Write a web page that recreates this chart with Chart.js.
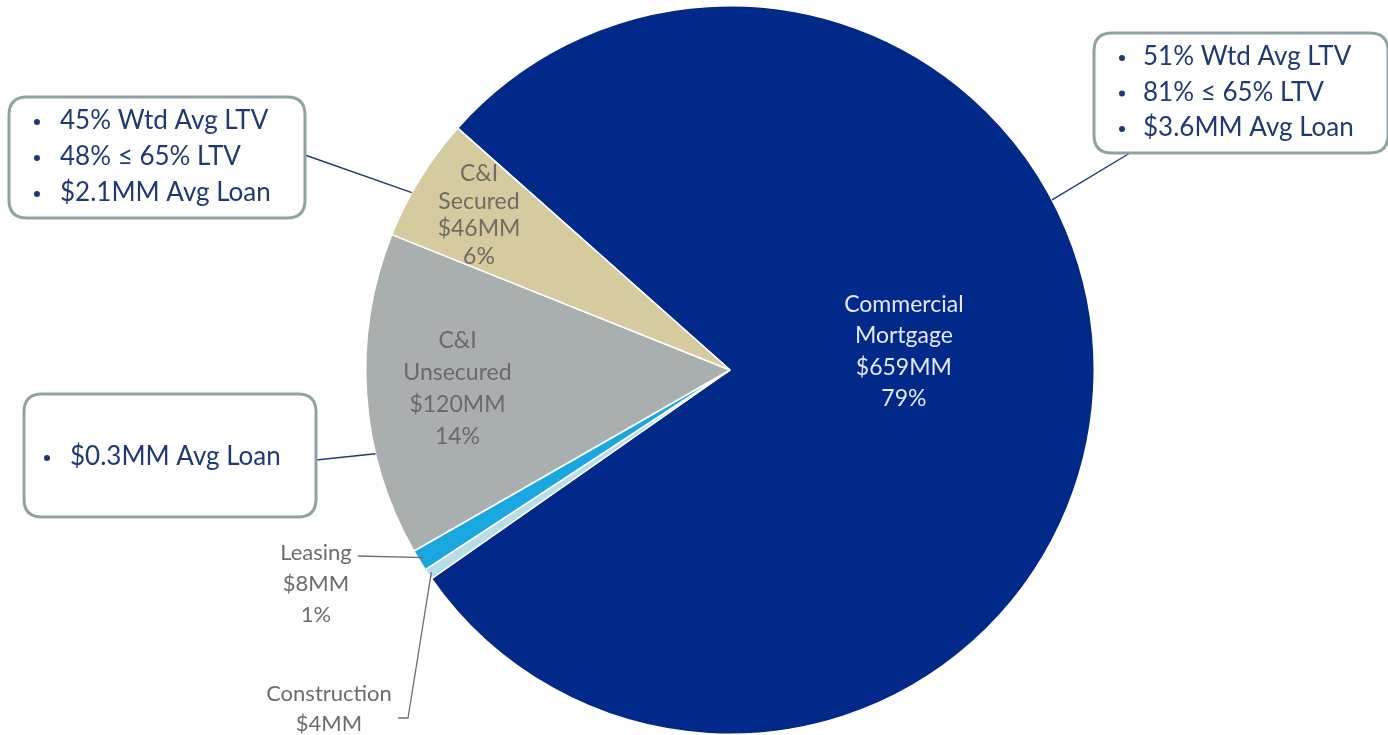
<!DOCTYPE html>
<html>
<head>
<meta charset="utf-8">
<script src="https://cdn.jsdelivr.net/npm/chart.js@4"></script>
<style>
  html, body { margin: 0; padding: 0; background: #fff; }
  #wrap { position: relative; width: 1388px; height: 735px; overflow: hidden; }
</style>
</head>
<body>
<div id="wrap"><canvas id="chart1"></canvas></div>
<script>
const categories = ['Commercial Mortgage', 'Construction', 'Leasing', 'C&I Unsecured', 'C&I Secured'];
const balances = [659, 4, 8, 120, 46];
const pctLabels = ['79%', '', '1%', '14%', '6%'];
const nameLines = [['Commercial', 'Mortgage'], ['Construction'], ['Leasing'], ['C&I', 'Unsecured'], ['C&I', 'Secured']];
const sliceColors = ['#00298a', '#b7dde9', '#1aa7e0', '#a9aeae', '#d6ca9f'];

// bullet boxes tied to slices
const callouts = [
  { slice: 4, lines: ['45% Wtd Avg LTV', '48% \u2264 65% LTV', '$2.1MM Avg Loan'] },
  { slice: 0, lines: ['51% Wtd Avg LTV', '81% \u2264 65% LTV', '$3.6MM Avg Loan'] },
  { slice: 3, lines: ['$0.3MM Avg Loan'] }
];

const FONT = 'Lato, "Open Sans", sans-serif';

function roundRect(c, x, y, w, h, r) {
  c.beginPath();
  c.moveTo(x + r, y);
  c.lineTo(x + w - r, y);
  c.quadraticCurveTo(x + w, y, x + w, y + r);
  c.lineTo(x + w, y + h - r);
  c.quadraticCurveTo(x + w, y + h, x + w - r, y + h);
  c.lineTo(x + r, y + h);
  c.quadraticCurveTo(x, y + h, x, y + h - r);
  c.lineTo(x, y + r);
  c.quadraticCurveTo(x, y, x + r, y);
  c.closePath();
}

// point on a slice: t = fraction along the arc, rf = fraction of the radius
function slicePoint(arc, t, rf) {
  const p = arc.getProps(['x', 'y', 'startAngle', 'endAngle', 'outerRadius'], true);
  const a = p.startAngle + t * (p.endAngle - p.startAngle);
  return { x: p.x + Math.cos(a) * p.outerRadius * rf, y: p.y + Math.sin(a) * p.outerRadius * rf };
}

const labelPlugin = {
  id: 'sliceLabels',
  afterDatasetsDraw(chart) {
    const c = chart.ctx;
    const arcs = chart.getDatasetMeta(0).data;
    c.save();
    c.textAlign = 'center';
    c.textBaseline = 'middle';

    // labels inside the larger slices
    const inside = { 0: { t: 0.467, rf: 0.48, lh: 31.5, color: '#e2e9f7' },
                     3: { t: 0.5, rf: 0.75, lh: 32, color: '#676b6b' },
                     4: { t: 0.5, rf: 0.81, lh: 27.5, color: '#6f6c63' } };
    Object.keys(inside).forEach(k => {
      const i = +k, cfg = inside[i];
      const pt = slicePoint(arcs[i], cfg.t, cfg.rf);
      const lines = nameLines[i].concat(['$' + balances[i] + 'MM', pctLabels[i]]);
      c.font = '23px ' + FONT;
      c.fillStyle = cfg.color;
      lines.forEach((s, j) => c.fillText(s, pt.x, pt.y + (j - (lines.length - 1) / 2) * cfg.lh));
    });

    // small slices labelled outside
    c.strokeStyle = '#6f6f6f';
    c.lineWidth = 1.3;
    const lp = slicePoint(arcs[2], 0.5, 0.985);
    c.beginPath(); c.moveTo(lp.x, lp.y); c.lineTo(358, 556); c.stroke();
    const cp = slicePoint(arcs[1], 0.5, 0.99);
    c.beginPath(); c.moveTo(cp.x, cp.y); c.lineTo(408, 718); c.lineTo(398, 718); c.stroke();

    c.font = '22px ' + FONT;
    c.fillStyle = '#6c6c6c';
    [nameLines[2][0], '$' + balances[2] + 'MM', pctLabels[2]].forEach((s, j) => c.fillText(s, 316, 553 + j * 31));
    [nameLines[1][0], '$' + balances[1] + 'MM'].forEach((s, j) => c.fillText(s, 329, 694 + j * 30));

    // bullet boxes with leader lines
    const boxes = [
      { x: 9, y: 97, w: 296, h: 121, bx: 37, tx: 60, ty: 121, lh: 36, anchor: [305, 155], t: 0.37 },
      { x: 1094, y: 33, w: 294, h: 120, bx: 1122, tx: 1143, ty: 57, lh: 35.5, anchor: [1130, 153], t: 0.39 },
      { x: 24, y: 394, w: 292, h: 123, bx: 47, tx: 70, ty: 457, lh: 36, anchor: [316, 460], t: 0.32 }
    ];
    callouts.forEach((co, i) => {
      const b = boxes[i];
      const ep = slicePoint(arcs[co.slice], b.t, 1);
      c.strokeStyle = '#1f3a70';
      c.lineWidth = 1.4;
      c.beginPath(); c.moveTo(b.anchor[0], b.anchor[1]); c.lineTo(ep.x, ep.y); c.stroke();

      c.fillStyle = '#ffffff';
      roundRect(c, b.x, b.y, b.w, b.h, 18);
      c.fill();
      c.strokeStyle = '#8fa3a3';
      c.lineWidth = 3;
      c.stroke();

      c.fillStyle = '#1f3a73';
      c.textAlign = 'left';
      co.lines.forEach((s, j) => {
        const y = b.ty + j * b.lh;
        c.beginPath(); c.arc(b.bx, y + 1, 3, 0, Math.PI * 2); c.fill();
        c.font = '26px ' + FONT;
        c.fillText(s, b.tx, y);
      });
    });
    c.restore();
  }
};

const ctx1 = document.getElementById('chart1').getContext('2d');
new Chart(ctx1, {
  type: 'pie',
  data: {
    labels: categories,
    datasets: [{
      data: balances,
      backgroundColor: sliceColors,
      borderColor: '#ffffff',
      borderWidth: 1.5
    }]
  },
  options: {
    responsive: true,
    maintainAspectRatio: false,
    animation: false,
    rotation: -48.4,
    layout: { padding: { top: 5, bottom: 0, left: 72, right: 0 } },
    plugins: {
      legend: { display: false },
      tooltip: { enabled: false }
    }
  },
  plugins: [labelPlugin]
});
</script>
</body>
</html>
